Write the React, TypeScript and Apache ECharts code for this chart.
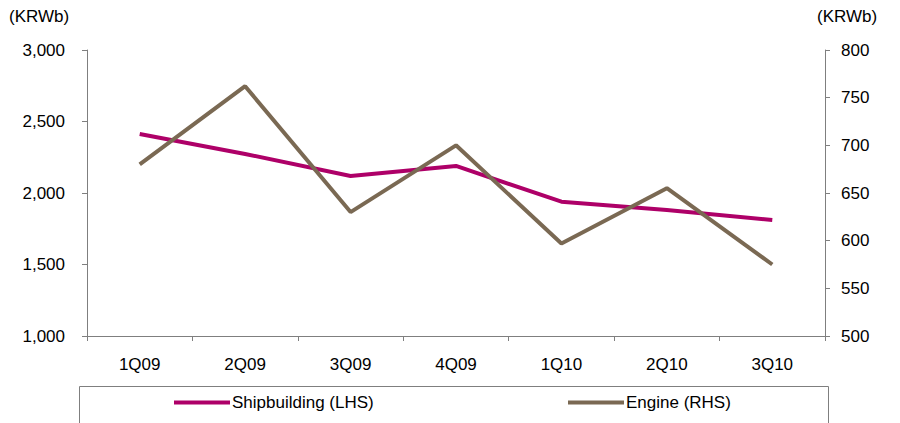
import React, { useEffect, useRef } from "react";
import * as echarts from "echarts";

const categories = ["1Q09", "2Q09", "3Q09", "4Q09", "1Q10", "2Q10", "3Q10"];
const shipbuilding = [2413, 2273, 2119, 2189, 1939, 1881, 1811];
const engine = [680, 762, 630, 700, 597, 655, 575];
const leftName = "(KRWb)";
const rightName = "(KRWb)";
const seriesNames = ["Shipbuilding (LHS)", "Engine (RHS)"];

const FONT = "Liberation Sans, Arial, sans-serif";
const AXIS = "#7f7f7f";
const FS = 17;

export default function App() {
  const ref = useRef<HTMLDivElement>(null);
  useEffect(() => {
    const chart = echarts.init(ref.current!, null, { renderer: "svg" });
    const legendText = { fontFamily: FONT, fontSize: FS, color: "#000", padding: [0, 0, 0, -3] };
    chart.setOption({
      animation: false,
      backgroundColor: "#fff",
      textStyle: { fontFamily: FONT },
      grid: { left: 87, right: 75, top: 50, bottom: 87 },
      legend: [
        {
          data: [seriesNames[0]],
          left: 169,
          top: 389,
          icon: "rect",
          itemWidth: 56,
          itemHeight: 4,
          textStyle: legendText,
        },
        {
          data: [seriesNames[1]],
          left: 563,
          top: 389,
          icon: "rect",
          itemWidth: 56,
          itemHeight: 4,
          textStyle: legendText,
        },
      ],
      xAxis: {
        type: "category",
        data: categories,
        boundaryGap: true,
        axisLine: { lineStyle: { color: AXIS, width: 1 } },
        axisTick: { show: true, length: 5, lineStyle: { color: AXIS } },
        axisLabel: { fontFamily: FONT, fontSize: FS, color: "#000", margin: 20 },
      },
      yAxis: [
        {
          type: "value",
          min: 1000,
          max: 3000,
          interval: 500,
          position: "left",
          axisLine: { show: true, lineStyle: { color: AXIS } },
          axisTick: { show: true, length: 5, lineStyle: { color: AXIS } },
          splitLine: { show: false },
          axisLabel: {
            fontFamily: FONT,
            fontSize: FS,
            color: "#000",
            margin: 22,
            formatter: (v: number) => v.toLocaleString("en-US"),
          },
        },
        {
          type: "value",
          min: 500,
          max: 800,
          interval: 50,
          position: "right",
          axisLine: { show: true, lineStyle: { color: AXIS } },
          axisTick: { show: true, length: 5, lineStyle: { color: AXIS } },
          splitLine: { show: false },
          axisLabel: { fontFamily: FONT, fontSize: FS, color: "#000", margin: 16 },
        },
      ],
      series: [
        {
          name: seriesNames[0],
          type: "line",
          data: shipbuilding,
          yAxisIndex: 0,
          symbol: "none",
          color: "#AE0068",
          lineStyle: { color: "#AE0068", width: 4 },
        },
        {
          name: seriesNames[1],
          type: "line",
          data: engine,
          yAxisIndex: 1,
          symbol: "none",
          color: "#7A6953",
          lineStyle: { color: "#7A6953", width: 4 },
        },
      ],
      graphic: [
        {
          type: "text",
          left: 9,
          top: 8,
          style: { text: leftName, font: `${FS}px ${FONT}`, fill: "#000" },
        },
        {
          type: "text",
          left: 817,
          top: 8,
          style: { text: rightName, font: `${FS}px ${FONT}`, fill: "#000" },
        },
        {
          type: "polyline",
          shape: { points: [[79.5, 424], [79.5, 386.5], [828.5, 386.5], [828.5, 424]] },
          style: { stroke: AXIS, lineWidth: 1, fill: "none" },
        },
      ],
    });
    return () => chart.dispose();
  }, []);
  return <div ref={ref} style={{ width: 900, height: 423, position: "absolute", left: 0, top: 0 }} />;
}
